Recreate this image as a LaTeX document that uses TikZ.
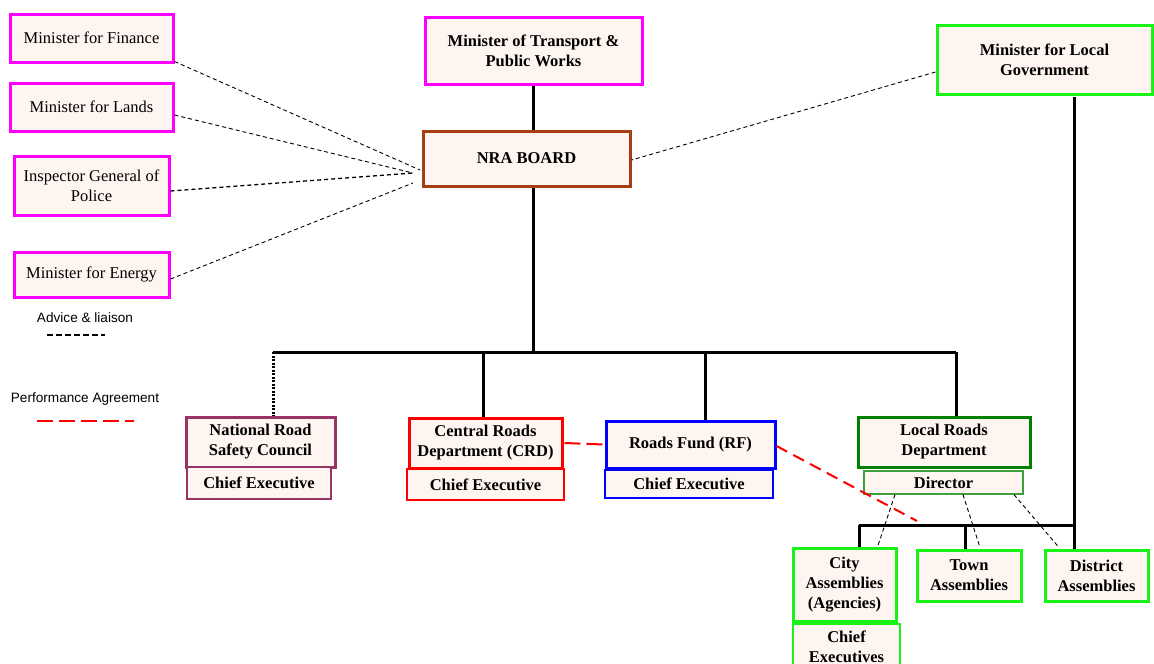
\documentclass[tikz,border=0pt]{standalone}
\usepackage{fontspec}
\setmainfont{Liberation Serif}
\setsansfont{Liberation Sans}
\definecolor{boxfill}{RGB}{254,245,241}
\definecolor{mag}{RGB}{255,0,255}
\definecolor{nrabrown}{RGB}{165,62,18}
\definecolor{lgreen}{RGB}{25,242,25}
\definecolor{nrscpurple}{RGB}{153,51,102}
\definecolor{dgreen}{RGB}{0,128,0}
\definecolor{dirgreen}{RGB}{60,160,60}
\tikzset{
  box/.style={draw, fill=boxfill, inner sep=0pt, align=center, font=\fontsize{16.5}{20}\selectfont},
  bbox/.style={box, font=\fontsize{16.5}{20}\selectfont\bfseries},
  thickb/.style={line width=3pt},
  thinb/.style={line width=1.2pt},
  conn/.style={line width=3pt},
  advice/.style={line width=0.9pt, dash pattern=on 4pt off 3pt},
  perf/.style={red, line width=2pt, dash pattern=on 14pt off 7pt},
  legtext/.style={font=\sffamily\fontsize{13.6}{15}\selectfont}
}
\begin{document}
\begin{tikzpicture}[x=1pt,y=-1pt]
\useasboundingbox (0,0) rectangle (1154,664);
% left boxes
\node[box, thickb, draw=mag, minimum width=163pt, minimum height=48pt] (fin) at (91.5,38) {Minister for Finance};
\node[box, thickb, draw=mag, minimum width=163pt, minimum height=48pt] (lands) at (91.5,107) {Minister for Lands};
\node[box, thickb, draw=mag, minimum width=155pt, minimum height=59pt] (insp) at (91.5,185.5) {Inspector General of\\Police};
\node[box, thickb, draw=mag, minimum width=155pt, minimum height=45pt] (energy) at (91.5,274.5) {Minister for Energy};
% top
\node[bbox, thickb, draw=mag, minimum width=217pt, minimum height=67pt] (trans) at (533.5,50.5) {Minister of Transport \&\\Public Works};
\node[bbox, thickb, draw=nrabrown, minimum width=207pt, minimum height=55pt] (nra) at (526.5,158.5) {NRA BOARD};
\node[bbox, thickb, draw=lgreen, minimum width=215pt, minimum height=69pt] (lg) at (1044.5,59.5) {Minister for Local\\Government};
% agencies
\node[bbox, thickb, draw=nrscpurple, minimum width=149pt, minimum height=50pt] (nrsc) at (260.5,442) {National Road\\Safety Council};
\node[bbox, thinb, draw=nrscpurple, minimum width=144pt, minimum height=32pt] (ce1) at (259,483) {Chief Executive};
\node[bbox, thickb, draw=red, minimum width=153pt, minimum height=50pt] (crd) at (485.5,443) {Central Roads\\Department (CRD)};
\node[bbox, thinb, draw=red, minimum width=157pt, minimum height=31pt] (ce2) at (485.5,484.5) {Chief Executive};
\node[bbox, thickb, draw=blue, minimum width=169pt, minimum height=47pt] (rf) at (690.5,444.5) {Roads Fund (RF)};
\node[bbox, thinb, draw=blue, minimum width=168pt, minimum height=28pt] (ce3) at (689,484) {Chief Executive};
\node[bbox, thickb, draw=dgreen, minimum width=172pt, minimum height=50pt] (lrd) at (944,442) {Local Roads\\Department};
\node[bbox, thinb, draw=dirgreen, minimum width=159pt, minimum height=23pt] (dir) at (943.5,482.5) {Director};
% assemblies
\node[bbox, thickb, draw=lgreen, minimum width=103pt, minimum height=73pt] (city) at (844.5,584.5) {City\\Assemblies\\(Agencies)};
\node[bbox, line width=1.5pt, draw=lgreen, minimum width=107pt, minimum height=45pt] (ces) at (846.5,646.5) {Chief\\Executives};
\node[bbox, thickb, draw=lgreen, minimum width=104pt, minimum height=51pt] (town) at (969,575.5) {Town\\Assemblies};
\node[bbox, thickb, draw=lgreen, minimum width=103pt, minimum height=51pt] (dist) at (1096.5,575.5) {District\\Assemblies};
% main hierarchy
\coordinate (tx) at (533,84);
\draw[conn] (tx |- trans.south) -- (tx |- nra.north);
\coordinate (bL) at (273,352);
\coordinate (bM) at (533,352);
\coordinate (b2) at (483,352);
\coordinate (b3) at (705,352);
\coordinate (bR) at (956,352);
\draw[conn] (bM |- nra.south) -- (bM);
\draw[conn] (bL) -- (bR);
\draw[line width=3pt, dash pattern=on 2pt off 1.5pt] (bL) -- (bL |- nrsc.north);
\draw[conn] (b2) -- (b2 |- crd.north);
\draw[conn] (b3) -- (b3 |- rf.north);
\draw[conn] (bR) -- (bR |- lrd.north);
% local government
\coordinate (lgb) at (1074,97);
\draw[conn] (lgb) -- (lgb |- dist.north);
\coordinate (lb) at (859,525);
\coordinate (tb) at (965,525);
\draw[conn] (lb) -- (lgb |- lb);
\draw[conn] (lb) -- (lb |- city.north);
\draw[conn] (tb) -- (tb |- town.north);
% advice lines
\coordinate (a1) at (420,170);
\coordinate (a2) at (413,173);
\coordinate (a3) at (413,183);
\draw[advice] ([yshift=2pt]fin.south east) -- (a1);
\draw[advice] ([yshift=-8pt]lands.east) -- (a2);
\draw[advice, line width=1.3pt] ([yshift=-5.5pt]insp.east) -- (a2);
\draw[advice] ([yshift=-4.5pt]energy.east) -- (a3);
\draw[advice] ([yshift=-12.5pt]lg.west) -- ([yshift=-1.5pt]nra.east);
\draw[advice] ([xshift=-48.5pt]dir.south) -- ([xshift=33.5pt,yshift=1pt]city.north);
\draw[advice] ([xshift=19.5pt]dir.south) -- ([xshift=11pt,yshift=1pt]town.north);
\draw[advice] ([xshift=70.5pt]dir.south) -- ([xshift=-37.5pt,yshift=1pt]dist.north);
% performance agreements
\draw[perf, dash pattern=on 16pt off 6pt] ([xshift=1pt]crd.east) -- ([xshift=-1pt]rf.east -| rf.west);
\coordinate (pe) at (917,521);
\draw[perf, dash pattern=on 12pt off 7pt] ([yshift=-1.5pt]rf.east) -- (pe);
% legend
\node[legtext] (lt1) at (85,318) {Advice \& liaison};
\coordinate (l1a) at (47,335);
\coordinate (l1b) at (105,335);
\draw[line width=1.6pt, dash pattern=on 6pt off 3pt] (l1a) -- (l1b);
\node[legtext] (lt2) at (85,399) {Performance Agreement};
\coordinate (l2a) at (37,421);
\coordinate (l2b) at (134,421);
\draw[red, line width=2pt, dash pattern=on 16pt off 6pt] (l2a) -- (l2b);
\end{tikzpicture}
\end{document}
